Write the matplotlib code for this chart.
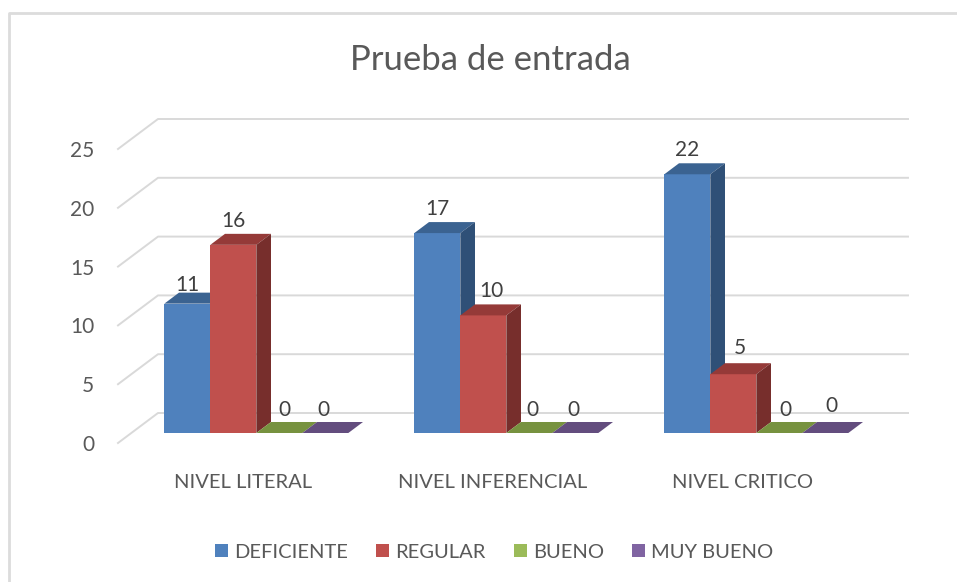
##
#  Pseudo 3D clustered column chart of the entry test results.
#

import matplotlib
matplotlib.use("Agg")
import matplotlib.pyplot as plt
from matplotlib.patches import Polygon, Patch
from matplotlib.lines import Line2D

levels = ["NIVEL LITERAL", "NIVEL INFERENCIAL", "NIVEL CRITICO"]
series_names = ["DEFICIENTE", "REGULAR", "BUENO", "MUY BUENO"]
deficiente = [11, 17, 22]
regular = [16, 10, 5]
bueno = [0, 0, 0]
muy_bueno = [0, 0, 0]
y_ticks = [0, 5, 10, 15, 20, 25]

front_colors = ["#4f81bd", "#c0504d", "#9bbb59", "#8064a2"]
top_colors = ["#3b6391", "#953a38", "#77923f", "#634d7e"]
side_colors = ["#2f5077", "#772e2c", "#5e7432", "#4e3e64"]

# hand nudges of the value labels, in pixels, one row per series
label_dx = [[0, 0, 0], [0, 8, 7], [5, 3, 6], [-2, -2, 6]]
label_dy = [[-6, 0, 0], [0, 0, 2], [-1, -1, -1], [-1, -1, 3]]

FIG_W = 957
FIG_H = 582
PLOT_LEFT = 118
PLOT_RIGHT = 868
PLOT_BOTTOM = 443
PLOT_TOP = 149
GREY = "#595959"
GRID = "#d9d9d9"
BAR_W = 0.184
DEPTH_X = 40 / 250
DEPTH_Y = 30 / 11.76
BAR_FRONT = 1 / 3
BAR_BACK = 0.70

plt.rcParams["font.family"] = ["Lato", "DejaVu Sans"]


## Moves a point of the front plane backwards.
#  @param x, y the point on the front plane, in data units
#  @param depth 0 at the front plane, 1 at the back wall
#  @return the projected point
#
def project(x, y, depth):
   return (x + depth*DEPTH_X, y + depth*DEPTH_Y)


def drawGrid(ax):
   for tick in y_ticks:
      points = [project(0, tick, 0), project(0, tick, 1), project(3, tick, 1)]
      ax.add_line(Line2D([p[0] for p in points], [p[1] for p in points], color=GRID,
                         lw=1.4, zorder=1, clip_on=False))


def drawBar(ax, x, value, j):
   x1 = x + BAR_W
   ax.bar(x, value, BAR_W, bottom=BAR_FRONT*DEPTH_Y, align="edge", color=front_colors[j],
          zorder=2 + j, clip_on=False)
   base = BAR_FRONT*DEPTH_Y
   change = BAR_BACK - BAR_FRONT
   top = [(x, value + base), (x1, value + base),
          (x1 + change*DEPTH_X, value + base + change*DEPTH_Y),
          (x + change*DEPTH_X, value + base + change*DEPTH_Y)]
   side = [(x1, base), (x1, value + base),
           (x1 + change*DEPTH_X, value + base + change*DEPTH_Y),
           (x1 + change*DEPTH_X, base + change*DEPTH_Y)]
   ax.add_patch(Polygon(top, closed=True, fc=top_colors[j], ec="none", zorder=2 + j, clip_on=False))
   if value > 0:
      ax.add_patch(Polygon(side, closed=True, fc=side_colors[j], ec="none", zorder=2 + j, clip_on=False))


def main():
   fig = plt.figure(figsize=(FIG_W/100, FIG_H/100), dpi=100)
   ax = fig.add_axes([PLOT_LEFT/FIG_W, 1 - PLOT_BOTTOM/FIG_H,
                      (PLOT_RIGHT - PLOT_LEFT)/FIG_W, (PLOT_BOTTOM - PLOT_TOP)/FIG_H])
   ax.set_xlim(0, 3)
   ax.set_ylim(0, 25)
   for spine in ax.spines.values():
      spine.set_visible(False)
   ax.patch.set_visible(False)

   ax.set_yticks(y_ticks)
   ax.set_xticks([i + 0.5 for i in range(len(levels))], levels)
   ax.tick_params(axis="y", length=0, pad=17, labelsize=15, labelcolor=GREY)
   ax.tick_params(axis="x", length=0, pad=22.5, labelsize=14.5, labelcolor=GREY)

   drawGrid(ax)

   values = [deficiente, regular, bueno, muy_bueno]
   for i in range(len(levels)):
      for j in range(len(values)):
         x = i + 0.5 + (j - 2)*BAR_W + BAR_FRONT*DEPTH_X
         value = values[j][i]
         drawBar(ax, x, value, j)
         offset = (label_dx[j][i]*0.72, 17.5 + label_dy[j][i]*0.72)
         ax.annotate(str(value), (x + BAR_W/2, value + BAR_FRONT*DEPTH_Y), xytext=offset,
                     textcoords="offset points", ha="center", va="center", fontsize=15,
                     color="#404040", zorder=10, annotation_clip=False)

   fig.text(490/FIG_W, 1 - 60/FIG_H, "Prueba de entrada", ha="center", va="center",
            fontsize=25, color=GREY)

   handles = [Patch(fc=c, ec="none") for c in front_colors]
   fig.legend(handles, series_names, ncol=4, loc="center", bbox_to_anchor=(494/FIG_W, 1 - 552/FIG_H),
              frameon=False, fontsize=14.5, labelcolor=GREY, handlelength=0.65, handleheight=0.65,
              handletextpad=0.3, columnspacing=1.4)

   # card frame, top and left sides only
   fig.add_artist(Line2D([9/FIG_W, 9/FIG_W, 1], [0, 1 - 13/FIG_H, 1 - 13/FIG_H], color="#dcdcdc", lw=2))

   fig.savefig("out.png", dpi=100, facecolor="white")


# Start the program.
main()
